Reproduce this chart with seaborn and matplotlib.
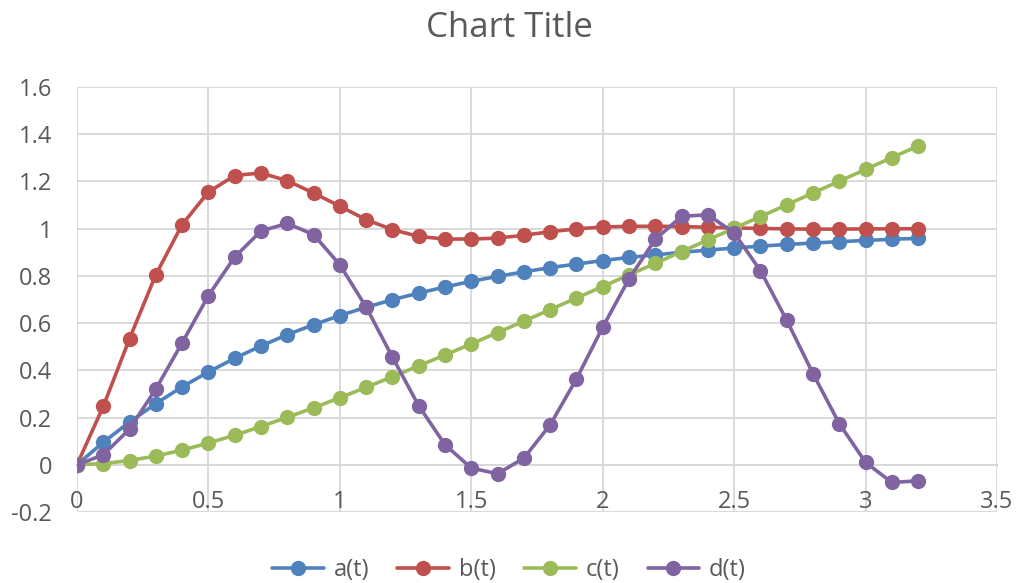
import pandas as pd
import matplotlib.pyplot as plt
import numpy as np
import seaborn as sns

# %%
t = [0.0, 0.1, 0.2, 0.3, 0.4, 0.5, 0.6, 0.7, 0.8, 0.9, 1.0,
     1.1, 1.2, 1.3, 1.4, 1.5, 1.6, 1.7, 1.8, 1.9, 2.0,
     2.1, 2.2, 2.3, 2.4, 2.5, 2.6, 2.7, 2.8, 2.9, 3.0, 3.1, 3.2]

a_t = [0.0, 0.095, 0.181, 0.259, 0.330, 0.393, 0.451, 0.503, 0.551, 0.593, 0.632,
       0.667, 0.699, 0.727, 0.753, 0.777, 0.798, 0.817, 0.835, 0.850, 0.865,
       0.878, 0.889, 0.900, 0.909, 0.918, 0.926, 0.933, 0.939, 0.945, 0.950, 0.955, 0.959]

b_t = [0.0, 0.247, 0.534, 0.805, 1.017, 1.155, 1.225, 1.236, 1.203, 1.151, 1.095,
       1.038, 0.996, 0.967, 0.956, 0.956, 0.960, 0.972, 0.987, 0.999, 1.007,
       1.010, 1.010, 1.009, 1.006, 1.003, 1.001, 0.999, 0.998, 0.998, 0.999, 0.999, 1.000]

c_t = [0.0, 0.005, 0.018, 0.037, 0.062, 0.092, 0.125, 0.162, 0.201, 0.241, 0.284,
       0.328, 0.373, 0.419, 0.465, 0.512, 0.560, 0.608, 0.657, 0.706, 0.755,
       0.804, 0.853, 0.903, 0.952, 1.002, 1.051, 1.101, 1.151, 1.201, 1.251, 1.301, 1.350]

d_t = [0.0, 0.042, 0.151, 0.321, 0.516, 0.716, 0.880, 0.990, 1.022, 0.975, 0.847,
       0.668, 0.456, 0.250, 0.085, -0.014, -0.038, 0.028, 0.169, 0.363, 0.583,
       0.787, 0.955, 1.052, 1.059, 0.982, 0.822, 0.612, 0.386, 0.174, 0.010, -0.075, -0.068]

series_names = ['a(t)', 'b(t)', 'c(t)', 'd(t)']
colors = ['#4F81BD', '#C0504D', '#9BBB59', '#8064A2']

# %%
df = pd.DataFrame({'t': t, 'a(t)': a_t, 'b(t)': b_t, 'c(t)': c_t, 'd(t)': d_t})
long_df = df.melt(id_vars='t', var_name='series', value_name='value')

sns.set_style('white')
plt.rcParams['font.family'] = ['Open Sans', 'DejaVu Sans']

fig = plt.figure(figsize=(10.18, 5.83), dpi=100)
ax = fig.add_axes([0.0756, 0.1218, 0.9038, 0.729])

sns.lineplot(data=long_df, x='t', y='value', hue='series', hue_order=series_names,
             palette=colors, marker='o', markersize=11, markeredgewidth=0,
             linewidth=2.6, ax=ax, legend=False)

ax.set_xlim(0, 3.5)
ax.set_ylim(-0.2, 1.6)
ax.set_xticks(np.arange(0, 3.51, 0.5))
ax.set_xticklabels(['0', '0.5', '1', '1.5', '2', '2.5', '3', '3.5'])
ax.set_yticks(np.arange(-0.2, 1.61, 0.2))
ax.set_yticklabels(['-0.2', '0', '0.2', '0.4', '0.6', '0.8', '1', '1.2', '1.4', '1.6'])
ax.grid(True, color='#D9D9D9', linewidth=1.4)
ax.set_axisbelow(True)

for s in ['top', 'right', 'left']:
    ax.spines[s].set_visible(False)
ax.spines['bottom'].set_position(('data', 0))
ax.spines['bottom'].set_color('#BFBFBF')
ax.spines['bottom'].set_linewidth(1.4)
ax.spines['bottom'].set_zorder(0.5)
ax.tick_params(axis='both', length=0, labelsize=17, labelcolor='#595959')
ax.tick_params(axis='x', pad=18)
ax.tick_params(axis='y', pad=18)
ax.set_xlabel('')
ax.set_ylabel('')

fig.text(0.5, 0.952, 'Chart Title', ha='center', va='center', fontsize=25, color='#595959')

handles = [plt.Line2D([], [], color=c, linewidth=2.6, marker='o', markersize=11,
                      markeredgewidth=0) for c in colors]
fig.legend(handles, series_names, loc='center', bbox_to_anchor=(0.5, 0.022), ncol=4,
           frameon=False, fontsize=17, labelcolor='#595959', handlelength=2.2,
           columnspacing=1.2, handletextpad=0.4)

plt.savefig('out.png', dpi=100)
